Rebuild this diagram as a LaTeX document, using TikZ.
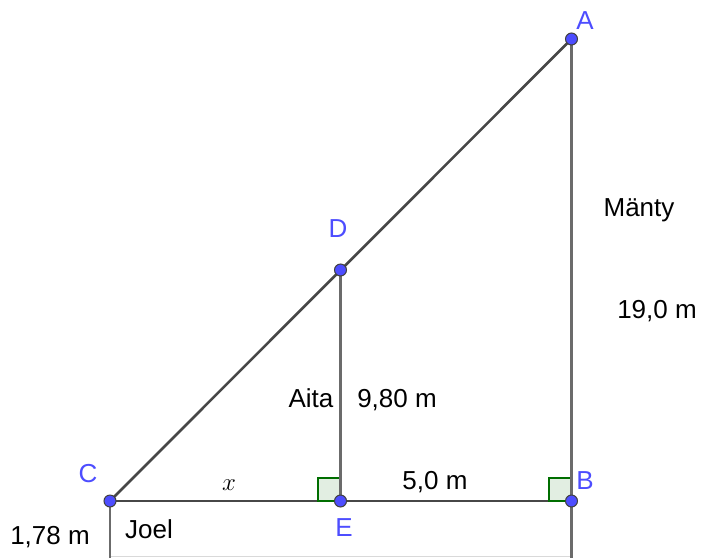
\documentclass[tikz,border=0pt]{standalone}
\usepackage{fontspec}
\setmainfont{Liberation Sans}
\definecolor{PisteSini}{RGB}{77, 77, 255}
\definecolor{KulmaVihrea}{RGB}{0, 110, 0}
\definecolor{KulmaTausta}{RGB}{226, 238, 226}
\usetikzlibrary{positioning}

\begin{document}
\begin{tikzpicture}[x=1pt, y=-1pt,
    every node/.style={font=\fontsize{26}{30}\selectfont, inner sep=0pt, anchor=base},
    jana/.style={line width=2.6pt, draw=black!72},
    pylvas/.style={line width=2.6pt, draw=black!58},
    kulma/.style={fill=KulmaTausta, draw=KulmaVihrea, line width=2pt},
    piste/.style={fill=PisteSini, draw=black!75, line width=1pt},
    kirjain/.style={text=PisteSini}
]
\useasboundingbox (0,0) rectangle (715,558);
% Pisteet
\coordinate (A) at (571.5,39);
\coordinate (B) at (571.5,501);
\coordinate (C) at (110,501);
\coordinate (D) at (340.5,270);
\coordinate (E) at (340.5,501);
\coordinate (Cala) at (110,558);
\coordinate (Bala) at (571.5,558);
\coordinate (Mvas) at (110,556.5);
\coordinate (Moik) at (571.5,556.5);
% Janat
\draw[line width=1.2pt, draw=black!15] (Mvas) -- (Moik);
\draw[jana] (C) -- (A);
\draw[jana] (C) -- (B);
% Suorat kulmat
\filldraw[kulma] (E) rectangle ++(-23,-23);
\filldraw[kulma] (B) rectangle ++(-23,-23);
% Pystyjanat
\draw[pylvas] (C) -- (Cala);
\draw[pylvas] (B) -- (Bala);
\draw[pylvas] (D) -- (E);
\draw[pylvas] (A) -- (B);
% Pisteiden merkit
\foreach \p in {A, B, C, D, E} {
    \filldraw[piste] (\p) circle (6);
}
% Nimet
\node[kirjain] (nA) at (585,29) {A};
\node[kirjain] (nB) at (585,489) {B};
\node[kirjain] (nC) at (88,482) {C};
\node[kirjain] (nD) at (338,237) {D};
\node[kirjain] (nE) at (344,536) {E};
% Mitat
\node (lx) at (229,490) {$x$};
\node (l5) at (435,489) {5,0 m};
\node (laita) at (311,407) {Aita};
\node (l980) at (397,407) {9,80 m};
\node (lmanty) at (639,216) {Mänty};
\node (l190) at (657,318) {19,0 m};
\node (l178) at (50,544) {1,78 m};
\node (ljoel) at (149,538) {Joel};
\end{tikzpicture}
\end{document}
